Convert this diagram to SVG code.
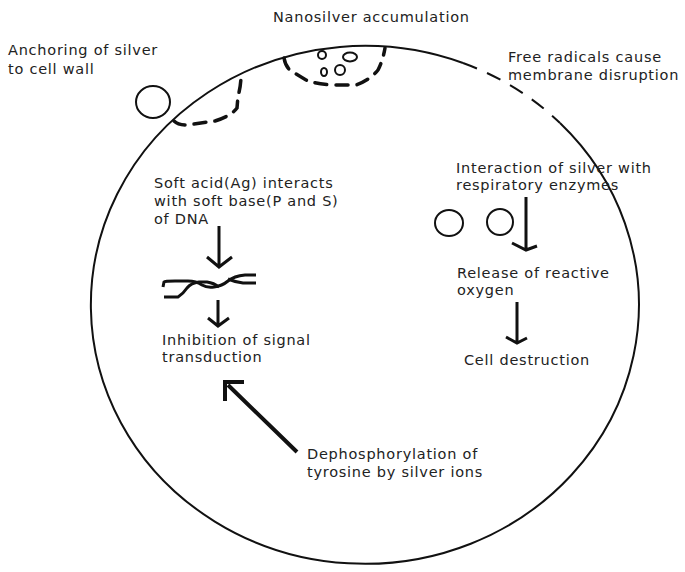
<svg xmlns="http://www.w3.org/2000/svg" width="685" height="572" viewBox="0 0 685 572">
<style>
text{font-family:"DejaVu Sans","Liberation Sans",sans-serif;font-size:14.5px;letter-spacing:0.75px;fill:#222}
.wall{fill:none;stroke:#111;stroke-width:2}
.dash{fill:none;stroke:#111;stroke-width:3.5;stroke-dasharray:12 9;stroke-linecap:round}
.ion{fill:none;stroke:#111;stroke-width:2}
.dna{fill:none;stroke:#111;stroke-width:3;stroke-linejoin:round}
.arr{fill:none;stroke:#111;stroke-width:3;stroke-linejoin:miter}
</style>
<rect width="685" height="572" fill="#fff"/>
<g id="cell">
<path class="wall" d="M560,123 A274,259 0 1 1 463,63"/>
<path class="wall" d="M463,63 A274,259 0 0 1 560,123" stroke-width="2.2" stroke-dasharray="15 11"/>
</g>
<g id="anchoring">
<ellipse class="ion" cx="153" cy="102" rx="17" ry="16"/>
<path class="dash" d="M174,121 Q178,125 186,125 L215,121 Q231,116 237,108 L238,96 Q241,86 241,75"/>
<text x="8" y="55">Anchoring of silver</text>
<text x="8" y="74">to cell wall</text>
</g>
<g id="nanosilver">
<path class="dash" d="M284,58 Q286,70 296,74 L306,80 Q316,84 332,85 L356,85 Q370,80 378,70 Q383,60 385,48"/>
<circle class="ion" cx="322" cy="55" r="4"/>
<ellipse class="ion" cx="350" cy="57" rx="7" ry="4.5"/>
<ellipse class="ion" cx="324" cy="72" rx="3" ry="4"/>
<circle class="ion" cx="340" cy="70" r="5"/>
<text x="273" y="22">Nanosilver accumulation</text>
</g>
<g id="free-radicals">
<text x="508" y="62" textLength="154" lengthAdjust="spacing">Free radicals cause</text>
<text x="508" y="80">membrane disruption</text>
</g>
<g id="dna-node">
<text x="154" y="188">Soft acid(Ag) interacts</text>
<text x="154" y="206">with soft base(P and S)</text>
<text x="154" y="224">of DNA</text>
<path class="dna" d="M163,287 L164,282 Q165,281 175,281 L188,281 Q196,281 202,285 Q207,288 214,287 Q222,286 228,281 Q234,276 245,275 L256,275"/>
<path class="dna" d="M164,297 L178,297 Q183,294 187,288 Q191,283 199,282 L207,282 Q214,283 219,287"/>
<path class="dna" d="M256,283 L243,283 Q235,282 228,279"/>
</g>
<g id="inhibition">
<text x="162" y="345">Inhibition of signal</text>
<text x="162" y="362">transduction</text>
</g>
<g id="dephosphorylation">
<text x="307" y="459">Dephosphorylation of</text>
<text x="307" y="477">tyrosine by silver ions</text>
</g>
<g id="respiratory">
<text x="456" y="173">Interaction of silver with</text>
<text x="456" y="190">respiratory enzymes</text>
<ellipse class="ion" cx="449" cy="223" rx="14" ry="13"/>
<circle class="ion" cx="500" cy="222" r="13"/>
</g>
<g id="ros">
<text x="457" y="278">Release of reactive</text>
<text x="457" y="295">oxygen</text>
</g>
<g id="destruction">
<text x="464" y="365">Cell destruction</text>
</g>
<g id="connectors">
<path class="arr" d="M219,226 V267 M207,257 L219,267 L232,257"/>
<path class="arr" d="M218,300 V325 M208,318 L218,326 L229,318"/>
<path class="arr" d="M526,197 V250 M512,243 L526,250 L537,246"/>
<path class="arr" d="M517,302 V343 M506,337 L517,343 L527,338"/>
<path d="M297,452 L228,385 M225,401 V382 H244" fill="none" stroke="#111" stroke-width="4"/>
</g>
</svg>
